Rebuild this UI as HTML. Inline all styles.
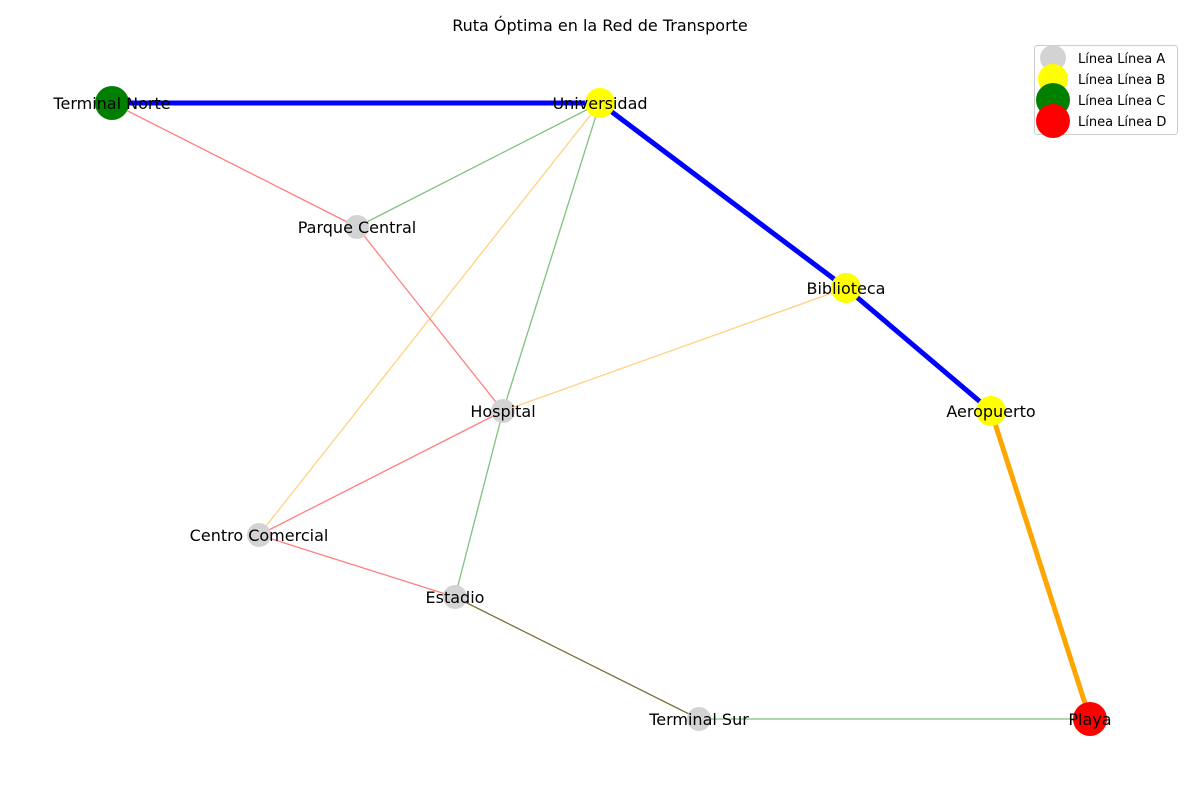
<!DOCTYPE html>
<html><head><meta charset="utf-8"><style>body{margin:0;background:#fff}svg{display:block}</style></head><body>
<svg width="1200" height="800" xmlns="http://www.w3.org/2000/svg" font-family="DejaVu Sans, Liberation Sans, sans-serif">
<rect width="1200" height="800" fill="#fff"/>
<text x="600" y="31" font-size="16" text-anchor="middle">Ruta Óptima en la Red de Transporte</text>
<g stroke-width="1.3">
<line x1="112" y1="103" x2="357" y2="227" stroke="#ff8080"/>
<line x1="600" y1="103" x2="357" y2="227" stroke="#80c080"/>
<line x1="600" y1="103" x2="259" y2="535" stroke="#ffd280"/>
<line x1="600" y1="103" x2="503" y2="411" stroke="#80c080"/>
<line x1="503" y1="411" x2="455" y2="597" stroke="#80c080"/>
<line x1="357" y1="227" x2="503" y2="411" stroke="#ff8080"/>
<line x1="846" y1="288" x2="503" y2="411" stroke="#ffd280"/>
<line x1="503" y1="411" x2="259" y2="535" stroke="#ff8080"/>
<line x1="259" y1="535" x2="455" y2="597" stroke="#ff8080"/>
<line x1="455" y1="597" x2="699" y2="719" stroke="#807040"/>
<line x1="699" y1="719" x2="1090" y2="719" stroke="#80c080"/>
</g>
<g stroke-width="5">
<line x1="112" y1="103" x2="600" y2="103" stroke="#0000ff"/>
<line x1="600" y1="103" x2="846" y2="288" stroke="#0000ff"/>
<line x1="846" y1="288" x2="991" y2="411" stroke="#0000ff"/>
<line x1="991" y1="411" x2="1090" y2="719" stroke="#ffa500"/>
</g>
<circle cx="112" cy="103" r="17" fill="#008000"/>
<circle cx="600" cy="103" r="15" fill="#ffff00"/>
<circle cx="357" cy="227" r="12" fill="#d3d3d3"/>
<circle cx="846" cy="288" r="15" fill="#ffff00"/>
<circle cx="503" cy="411" r="12" fill="#d3d3d3"/>
<circle cx="991" cy="411" r="15" fill="#ffff00"/>
<circle cx="259" cy="535" r="12" fill="#d3d3d3"/>
<circle cx="455" cy="597" r="12" fill="#d3d3d3"/>
<circle cx="699" cy="719" r="12" fill="#d3d3d3"/>
<circle cx="1090" cy="719" r="17" fill="#ff0000"/>
<g font-size="16" text-anchor="middle">
<text x="112" y="109">Terminal Norte</text>
<text x="600" y="109">Universidad</text>
<text x="357" y="233">Parque Central</text>
<text x="846" y="294">Biblioteca</text>
<text x="503" y="417">Hospital</text>
<text x="991" y="417">Aeropuerto</text>
<text x="259" y="541">Centro Comercial</text>
<text x="455" y="603">Estadio</text>
<text x="699" y="725">Terminal Sur</text>
<text x="1090" y="725">Playa</text>
</g>
<rect x="1034.5" y="45.5" width="143" height="89" rx="3" fill="#fff" fill-opacity="0.8" stroke="#ccc"/>
<circle cx="1053" cy="58" r="13" fill="#d3d3d3"/>
<circle cx="1053" cy="79" r="15" fill="#ffff00"/>
<circle cx="1053" cy="100" r="17" fill="#008000"/>
<circle cx="1053" cy="121" r="17" fill="#ff0000"/>
<g font-size="13">
<text x="1078" y="63">Línea Línea A</text>
<text x="1078" y="84">Línea Línea B</text>
<text x="1078" y="105">Línea Línea C</text>
<text x="1078" y="126">Línea Línea D</text>
</g>
</svg>
</body></html>
